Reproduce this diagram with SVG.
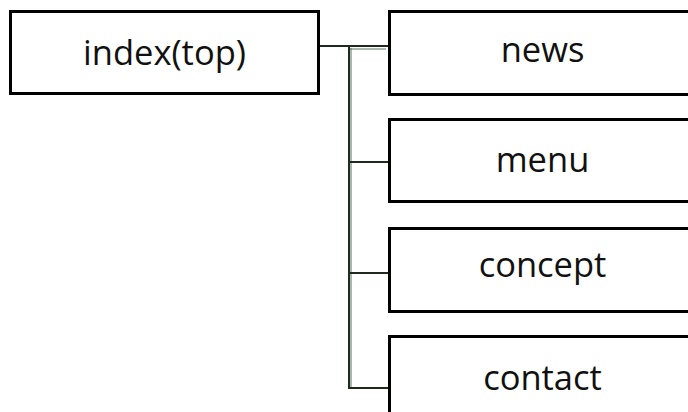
<svg xmlns="http://www.w3.org/2000/svg" width="688" height="412" viewBox="0 0 688 412">
<style>
.box{fill:#fff;stroke:#000;stroke-width:3}
.lbl{font-family:"Open Sans","Noto Sans","DejaVu Sans",sans-serif;font-size:34.5px;fill:#111;text-anchor:middle}
.ln{stroke:#1e2a1e;stroke-width:2;fill:none}
.ln2{stroke:#5d6e5d;stroke-width:1;fill:none}
</style>
<rect width="688" height="412" fill="#fff"/>
<g id="connectors">
<line class="ln" x1="320" y1="46" x2="388" y2="46"/>
<line class="ln2" x1="350" y1="49" x2="386" y2="49"/>
<line class="ln" x1="349" y1="46" x2="349" y2="389"/>
<line class="ln2" x1="351" y1="48" x2="351" y2="388"/>
<line class="ln" x1="349" y1="162" x2="388" y2="162"/>
<line class="ln" x1="349" y1="273" x2="388" y2="273"/>
<line class="ln" x1="349" y1="388" x2="388" y2="388"/>
</g>
<g id="index">
<rect class="box" x="10.5" y="11.5" width="308" height="82"/>
<text class="lbl" x="164.5" y="65">index(top)</text>
</g>
<g id="news">
<rect class="box" x="389.5" y="11.5" width="320" height="83"/>
<text class="lbl" x="542.5" y="62">news</text>
</g>
<g id="menu">
<rect class="box" x="389.5" y="119.5" width="320" height="82"/>
<text class="lbl" x="542.5" y="172">menu</text>
</g>
<g id="concept">
<rect class="box" x="389.5" y="228.5" width="320" height="83"/>
<text class="lbl" x="542.5" y="277">concept</text>
</g>
<g id="contact">
<rect class="box" x="389.5" y="336.5" width="320" height="90"/>
<text class="lbl" x="542.5" y="390">contact</text>
</g>
</svg>
